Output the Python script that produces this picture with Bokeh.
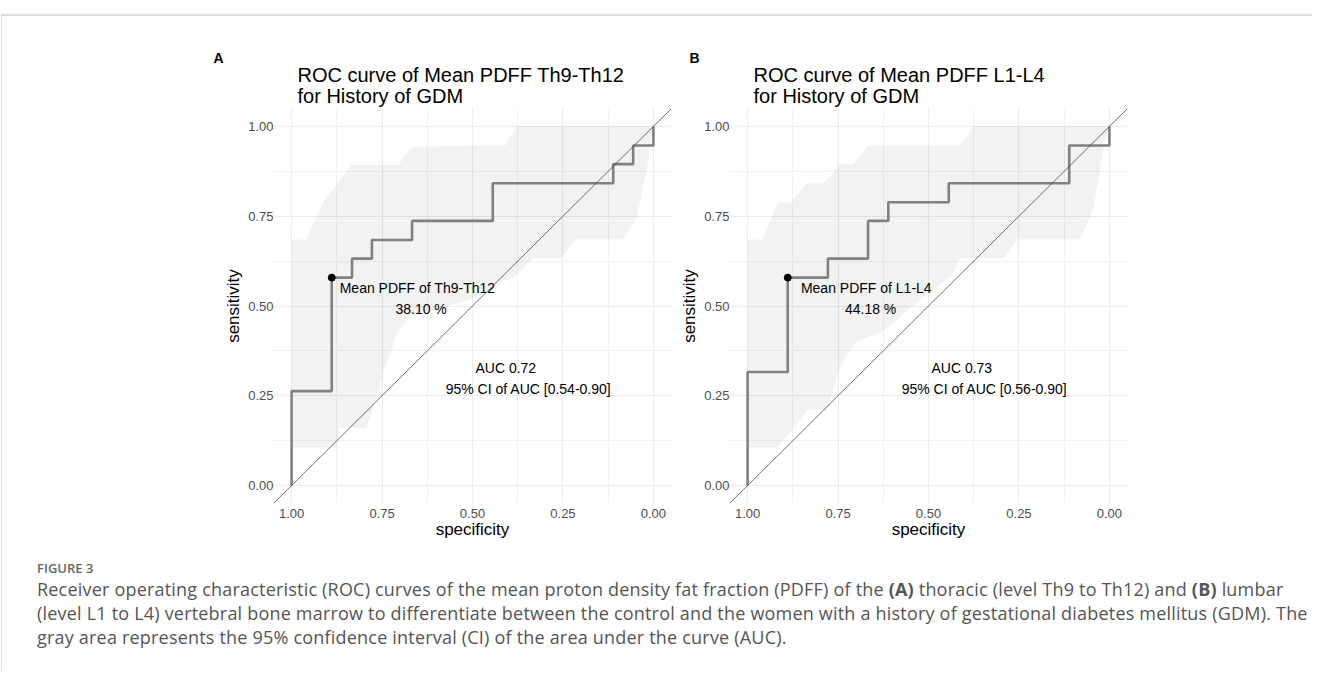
from bokeh.plotting import figure
from bokeh.models import Range1d, FixedTicker, NumeralTickFormatter, Title, Slope, ColumnDataSource, Div
from bokeh.layouts import row, column
from bokeh.embed import file_html
from bokeh.resources import INLINE
from bokeh.core.properties import value

# ---------------- data ----------------
# Panel A: ROC curve points (specificity, sensitivity)
roc_a_spec = [1.0, 1.0, 0.889, 0.889, 0.833, 0.833, 0.778, 0.778, 0.667, 0.667, 0.444, 0.444, 0.111, 0.111, 0.056, 0.056, 0.0, 0.0]
roc_a_sens = [0.0, 0.263, 0.263, 0.579, 0.579, 0.632, 0.632, 0.684, 0.684, 0.737, 0.737, 0.842, 0.842, 0.895, 0.895, 0.947, 0.947, 1.0]
# Panel A: 95% CI band of sensitivity
ci_a_up_spec = [1.0, 0.959, 0.912, 0.834, 0.705, 0.668, 0.41, 0.378, 0.0]
ci_a_up_sens = [0.685, 0.685, 0.791, 0.893, 0.893, 0.944, 0.947, 1.0, 1.0]
ci_a_lo_spec = [1.0, 0.876, 0.866, 0.793, 0.774, 0.747, 0.71, 0.673, 0.60, 0.50, 0.45, 0.378, 0.332, 0.253, 0.216, 0.083, 0.046, 0.018, 0.0]
ci_a_lo_sens = [0.105, 0.105, 0.16, 0.16, 0.216, 0.309, 0.42, 0.476, 0.49, 0.52, 0.55, 0.587, 0.634, 0.634, 0.685, 0.685, 0.745, 0.884, 1.0]
cut_a = (0.889, 0.579)
label_a = ["Mean PDFF of Th9-Th12", "38.10 %"]
auc_a = ["AUC 0.72", "95% CI of AUC [0.54-0.90]"]
title_a = "ROC curve of Mean PDFF Th9-Th12\nfor History of GDM"

# Panel B
roc_b_spec = [1.0, 1.0, 0.889, 0.889, 0.778, 0.778, 0.667, 0.667, 0.611, 0.611, 0.444, 0.444, 0.111, 0.111, 0.0, 0.0]
roc_b_sens = [0.0, 0.316, 0.316, 0.579, 0.579, 0.632, 0.632, 0.737, 0.737, 0.789, 0.789, 0.842, 0.842, 0.947, 0.947, 1.0]
ci_b_up_spec = [1.0, 0.959, 0.917, 0.879, 0.837, 0.79, 0.745, 0.708, 0.667, 0.413, 0.376, 0.0]
ci_b_up_sens = [0.685, 0.685, 0.789, 0.789, 0.842, 0.842, 0.895, 0.895, 0.947, 0.947, 1.0, 1.0]
ci_b_lo_spec = [1.0, 0.917, 0.833, 0.78, 0.745, 0.70, 0.625, 0.513, 0.437, 0.413, 0.291, 0.254, 0.082, 0.046, 0.028, 0.013, 0.0]
ci_b_lo_sens = [0.105, 0.105, 0.211, 0.211, 0.331, 0.40, 0.43, 0.526, 0.583, 0.634, 0.634, 0.685, 0.685, 0.763, 0.866, 0.958, 1.0]
cut_b = (0.889, 0.579)
label_b = ["Mean PDFF of L1-L4", "44.18 %"]
auc_b = ["AUC 0.73", "95% CI of AUC [0.56-0.90]"]
title_b = "ROC curve of Mean PDFF L1-L4\nfor History of GDM"

major_ticks = [0.0, 0.25, 0.5, 0.75, 1.0]
minor_ticks = [0.125, 0.375, 0.625, 0.875]

FONT = "Liberation Sans"


def make_panel(letter, letter_offset, title, roc_spec, roc_sens, up_spec, up_sens, lo_spec, lo_sens, cut,
               label_lines, auc_lines, label_x, width, border_left, border_right):
    p = figure(width=width, height=532, output_backend="svg", toolbar_location=None,
               x_range=Range1d(1.05, -0.05), y_range=Range1d(-0.05, 1.05),
               min_border_left=border_left, min_border_right=border_right,
               min_border_top=92, min_border_bottom=45, title=None)
    p.outline_line_color = None
    p.background_fill_color = "white"
    p.border_fill_alpha = 0

    t_main = Title(text=title, align="left", offset=24, text_font_size="20px",
                   text_font=FONT, text_font_style="normal", text_color="black",
                   standoff=3, text_line_height=0.95)
    p.add_layout(t_main, "above")
    t_letter = Title(text=letter, align="left", offset=letter_offset, text_font_size="14px",
                     text_font=FONT, text_font_style="bold", text_color="black", standoff=-10)
    p.add_layout(t_letter, "above")

    ticker = FixedTicker(ticks=major_ticks, minor_ticks=minor_ticks)
    for ax in (p.xaxis[0], p.yaxis[0]):
        ax.ticker = ticker
        ax.formatter = NumeralTickFormatter(format="0.00")
        ax.axis_line_color = None
        ax.major_tick_line_color = None
        ax.minor_tick_line_color = None
        ax.major_tick_out = 0
        ax.major_tick_in = 0
        ax.minor_tick_out = 0
        ax.major_label_text_font = FONT
        ax.major_label_text_font_size = "13px"
        ax.major_label_text_color = "#4d4d4d"
        ax.axis_label_text_font = FONT
        ax.axis_label_text_font_size = "17px"
        ax.axis_label_text_font_style = "normal"
        ax.axis_label_text_color = "black"
    p.xaxis.axis_label = "specificity"
    p.yaxis.axis_label = "sensitivity"
    p.xaxis.major_label_standoff = 5
    p.xaxis.axis_label_standoff = -1
    p.yaxis.major_label_standoff = 0
    p.yaxis.axis_label_standoff = 2

    for g in (p.xgrid[0], p.ygrid[0]):
        g.grid_line_color = "#ebebeb"
        g.grid_line_width = 1.1
        g.minor_grid_line_color = "#f2f2f2"
        g.minor_grid_line_width = 1

    # CI band
    xs = list(up_spec) + list(reversed(lo_spec))
    ys = list(up_sens) + list(reversed(lo_sens))
    p.patch(xs, ys, fill_color="black", fill_alpha=0.05, line_color=None)

    # diagonal
    p.add_layout(Slope(gradient=-1, y_intercept=1, line_color="#333333", line_width=0.7))

    # ROC curve
    p.line(roc_spec, roc_sens, line_color="#808080", line_width=2.6)
    p.scatter([cut[0]], [cut[1]], size=7, color="black")

    src = ColumnDataSource(dict(
        x=[label_x[0], label_x[1], 0.408, 0.345],
        y=[0.55, 0.492, 0.327, 0.269],
        t=[label_lines[0], label_lines[1], auc_lines[0], auc_lines[1]]))
    p.text(x="x", y="y", text="t", source=src, text_align="center", text_baseline="middle",
           text_font=value(FONT), text_font_size="14px", text_color="black")
    return p


pA = make_panel("A", -60, title_a, roc_a_spec, roc_a_sens, ci_a_up_spec, ci_a_up_sens,
                ci_a_lo_spec, ci_a_lo_sens, cut_a, label_a, auc_a, (0.652, 0.642), 669, 271, 0)
pB = make_panel("B", -40, title_b, roc_b_spec, roc_b_sens, ci_b_up_spec, ci_b_up_sens,
                ci_b_lo_spec, ci_b_lo_sens, cut_b, label_b, auc_b, (0.672, 0.660), 631, 58, 175)

caption_html = (
    "<div style=\"font-family:'Open Sans'; color:#555555; padding-left:30px;\">"
    "<div style=\"font-size:13px; font-weight:600; color:#666666; line-height:18px; margin-top:6px;\">FIGURE 3</div>"
    "<div style=\"font-size:18px; letter-spacing:0.2px; line-height:24px; margin-top:0px; white-space:nowrap;\">"
    "Receiver operating characteristic (ROC) curves of the mean proton density fat fraction (PDFF) of the "
    "<b>(A)</b> thoracic (level Th9 to Th12) and <b>(B)</b> lumbar<br>"
    "(level L1 to L4) vertebral bone marrow to differentiate between the control and the women with a history "
    "of gestational diabetes mellitus (GDM). The<br>"
    "gray area represents the 95% confidence interval (CI) of the area under the curve (AUC)."
    "</div></div>"
)
caption = Div(text=caption_html, width=1300, height=112)

layout = column(row(pA, pB), caption,
                styles={"border-top": "2px solid #dddddd", "border-left": "1px solid #dddddd",
                        "margin-top": "14px", "margin-left": "1px"})

open("out.html", "w").write(file_html(layout, INLINE))
